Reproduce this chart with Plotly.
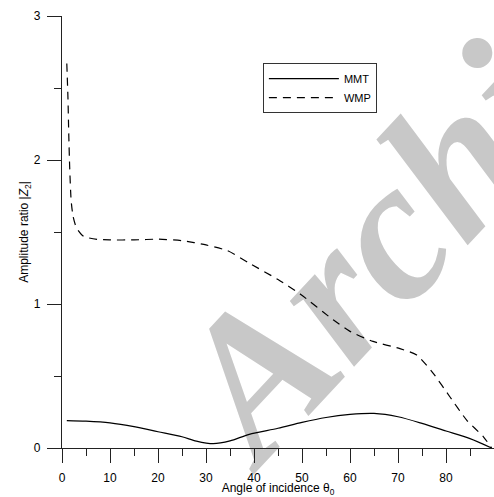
import plotly.graph_objects as go

# ---- data ----
mmt_x = [1, 5, 10, 15, 20, 25, 28, 31.5, 35, 39, 45, 50, 55, 60, 65, 70, 75, 80, 85, 89.5]
mmt_y = [0.19, 0.186, 0.174, 0.148, 0.113, 0.078, 0.048, 0.03, 0.049, 0.095, 0.137, 0.178, 0.212, 0.233, 0.24, 0.217, 0.171, 0.118, 0.065, 0.0]

wmp_x = [1, 1.25, 1.4, 1.6, 1.9, 2.3, 3.0, 4.5, 7.3, 10, 15, 20, 25, 30, 34.5, 39.2, 45, 49.6, 56.5, 60, 64.8, 70.4, 73.9, 77.3, 80.8, 84.3, 87.8, 89.5]
wmp_y = [2.67, 2.42, 2.19, 1.95, 1.72, 1.61, 1.53, 1.47, 1.449, 1.445, 1.445, 1.45, 1.44, 1.41, 1.37, 1.28, 1.17, 1.07, 0.89, 0.81, 0.74, 0.69, 0.646, 0.52, 0.356, 0.194, 0.078, 0.0]

series_names = ["MMT", "WMP"]
x_major = [0, 10, 20, 30, 40, 50, 60, 70, 80, 90]
x_minor = [5, 15, 25, 35, 45, 55, 65, 75, 85]
y_major = [0, 1, 2, 3]
y_minor = [0.5, 1.5, 2.5]
x_range = [0, 90]
y_range = [0, 3]

AX = "#222222"
FONT = "Liberation Sans, Arial, sans-serif"

fig = go.Figure()
fig.add_trace(go.Scatter(x=mmt_x, y=mmt_y, mode="lines", name=series_names[0],
                         line=dict(color="black", width=1.2, shape="spline", smoothing=0.8)))
fig.add_trace(go.Scatter(x=wmp_x, y=wmp_y, mode="lines", name=series_names[1],
                         line=dict(color="black", width=1.2, dash="8px,6px", shape="spline", smoothing=0.6)))

# watermark (below traces)
fig.add_shape(type="rect", xref="paper", yref="paper", x0=1.24, x1=1.34, y0=1.10, y1=1.20,
              layer="below", line=dict(width=0), fillcolor="rgba(0,0,0,0)",
              label=dict(text="<b><i>Archive of SID</i></b>", textangle=-47, textposition="middle center",
                         font=dict(family="Liberation Serif, Times New Roman, serif", size=200,
                                   color="#c8c8c8")))

fig.update_layout(
    width=494, height=497,
    margin=dict(l=62, r=0, t=16, b=49),
    paper_bgcolor="white", plot_bgcolor="white",
    font=dict(family=FONT, color="black", size=11),
    showlegend=True,
    legend=dict(x=0.465, y=0.891, xanchor="left", yanchor="top",
                bordercolor="#333333", borderwidth=1, bgcolor="white",
                font=dict(size=11, family=FONT), itemwidth=70,
                tracegroupgap=0),
    xaxis=dict(range=x_range, tickmode="array", tickvals=x_major,
               ticks="outside", ticklen=14, tickwidth=1.4, tickcolor=AX, ticklabelstandoff=4,
               minor=dict(tickvals=x_minor, ticks="outside", ticklen=7, tickwidth=1.4, tickcolor=AX),
               showline=True, linecolor=AX, linewidth=1.3, showgrid=False, zeroline=False,
               tickfont=dict(size=12), title=dict(text="Angle of incidence θ<sub>0</sub>", font=dict(size=12), standoff=1)),
    yaxis=dict(range=y_range, tickmode="array", tickvals=y_major,
               ticks="outside", ticklen=14, tickwidth=1.4, tickcolor=AX, ticklabelstandoff=4,
               minor=dict(tickvals=y_minor, ticks="outside", ticklen=7, tickwidth=1.4, tickcolor=AX),
               showline=True, linecolor=AX, linewidth=1.3, showgrid=False, zeroline=False,
               tickfont=dict(size=12), title=dict(text="Amplitude ratio |<i>Z</i><sub>2</sub>|", font=dict(size=12), standoff=2)),
)

fig.write_html("out.html")
